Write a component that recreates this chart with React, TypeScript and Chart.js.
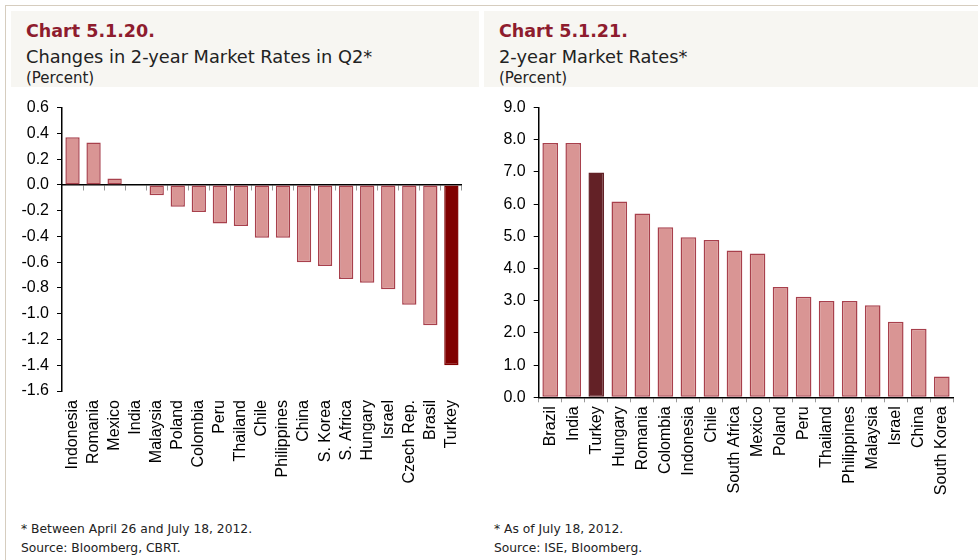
import React, { useEffect, useRef } from "react";
import { Chart, registerables } from "chart.js";

Chart.register(...registerables);

// ---------- Data ----------
const leftCategories = [
  "Indonesia", "Romania", "Mexico", "India", "Malaysia", "Poland", "Colombia", "Peru",
  "Thailand", "Chile", "Philippines", "China", "S. Korea", "S. Africa", "Hungary",
  "Israel", "Czech Rep.", "Brasil", "Turkey",
];
const leftValues = [
  0.37, 0.33, 0.05, 0.0, -0.08, -0.17, -0.21, -0.30, -0.32, -0.41, -0.41, -0.60,
  -0.63, -0.73, -0.76, -0.81, -0.93, -1.09, -1.40,
];
const leftYMin = -1.6;
const leftYMax = 0.6;
const leftYStep = 0.2;

const rightCategories = [
  "Brazil", "India", "Turkey", "Hungary", "Romania", "Colombia", "Indonesia", "Chile",
  "South Africa", "Mexico", "Poland", "Peru", "Thailand", "Philippines", "Malaysia",
  "Israel", "China", "South Korea",
];
const rightValues = [
  7.90, 7.90, 6.98, 6.08, 5.71, 5.28, 4.97, 4.89, 4.56, 4.47, 3.43, 3.12, 2.99, 2.99,
  2.86, 2.35, 2.13, 0.65,
];
const rightYMin = 0;
const rightYMax = 9;
const rightYStep = 1;

// ---------- Styles ----------
const BAR_FILL = "#d99594";
const BAR_BORDER = "#a8404c";
const TICK_FONT = { family: "'Liberation Sans', Arial, sans-serif", size: 16 };
const CAT_FONT = { family: "'Liberation Sans', Arial, sans-serif", size: 16 };
const HEAD_FONT = "'DejaVu Sans', Verdana, sans-serif";

const fmt = (v: number) => (Math.abs(v) < 1e-9 ? "0.0" : Number(v).toFixed(1));

function LeftChart() {
  const ref = useRef<HTMLCanvasElement | null>(null);
  useEffect(() => {
    if (!ref.current) return;
    const chart = new Chart(ref.current, {
      type: "bar",
      data: {
        labels: leftCategories,
        datasets: [
          {
            data: leftValues,
            backgroundColor: leftCategories.map((c) => (c === "Turkey" ? "#800000" : BAR_FILL)),
            borderColor: leftCategories.map((c) => (c === "Turkey" ? "#800000" : BAR_BORDER)),
            borderWidth: 1.5,
            borderSkipped: false,
            barPercentage: 0.68,
            categoryPercentage: 1,
          },
        ],
      },
      options: {
        responsive: false,
        animation: false,
        layout: { padding: { top: 0, right: 16, bottom: 0, left: 0 } },
        plugins: { legend: { display: false }, tooltip: { enabled: false } },
        scales: {
          x: {
            type: "category",
            offset: true,
            grid: { display: false, drawTicks: false },
            border: { display: false },
            ticks: {
              font: CAT_FONT,
              color: "#000",
              minRotation: 90,
              maxRotation: 90,
              autoSkip: false,
              padding: 9,
            },
            afterFit: (s: any) => {
              s.height = 104;
            },
          },
          x2: {
            type: "category",
            axis: "x",
            position: { y: 0 },
            offset: true,
            ticks: { display: false },
            grid: { offset: true, drawOnChartArea: false, tickLength: 5, color: "#999", lineWidth: 1 },
            border: { display: true, color: "#000", width: 1.5 },
          },
          y: {
            min: leftYMin,
            max: leftYMax,
            ticks: {
              stepSize: leftYStep,
              font: TICK_FONT,
              color: "#000",
              padding: 8,
              callback: (v: any) => fmt(Number(v)),
            },
            grid: { drawOnChartArea: false, tickLength: 5, tickColor: "#000" },
            border: { color: "#000", width: 1.5 },
            afterFit: (s: any) => {
              s.width = 52;
            },
          },
        },
      } as any,
    });
    return () => chart.destroy();
  }, []);
  return (
    <canvas
      ref={ref}
      width={470}
      height={405}
      style={{ position: "absolute", left: 10, top: 90, width: 470, height: 405 }}
    />
  );
}

function RightChart() {
  const ref = useRef<HTMLCanvasElement | null>(null);
  useEffect(() => {
    if (!ref.current) return;
    const chart = new Chart(ref.current, {
      type: "bar",
      data: {
        labels: rightCategories,
        datasets: [
          {
            data: rightValues,
            backgroundColor: rightCategories.map((c) => (c === "Turkey" ? "#632126" : BAR_FILL)),
            borderColor: rightCategories.map((c) => (c === "Turkey" ? "#632126" : BAR_BORDER)),
            borderWidth: 1.5,
            borderSkipped: false,
            barPercentage: 0.68,
            categoryPercentage: 1,
          },
        ],
      },
      options: {
        responsive: false,
        animation: false,
        layout: { padding: { top: 0, right: 24.7, bottom: 0, left: 0 } },
        plugins: { legend: { display: false }, tooltip: { enabled: false } },
        scales: {
          x: {
            type: "category",
            offset: true,
            grid: { offset: true, drawOnChartArea: false, tickLength: 5, color: "#999" },
            border: { color: "#000", width: 1.5 },
            ticks: {
              font: CAT_FONT,
              color: "#000",
              minRotation: 90,
              maxRotation: 90,
              autoSkip: false,
              padding: 4,
            },
            afterFit: (s: any) => {
              s.height = 102.7;
            },
          },
          y: {
            min: rightYMin,
            max: rightYMax,
            ticks: {
              stepSize: rightYStep,
              font: TICK_FONT,
              color: "#000",
              padding: 8,
              callback: (v: any) => fmt(Number(v)),
            },
            grid: { drawOnChartArea: false, tickLength: 5, tickColor: "#000" },
            border: { color: "#000", width: 1.5 },
            afterFit: (s: any) => {
              s.width = 50.7;
            },
          },
        },
      } as any,
    });
    return () => chart.destroy();
  }, []);
  return (
    <canvas
      ref={ref}
      width={490}
      height={410}
      style={{ position: "absolute", left: 488, top: 90, width: 490, height: 410 }}
    />
  );
}

const abs = (s: React.CSSProperties): React.CSSProperties => ({ position: "absolute", ...s });

export default function App() {
  return (
    <div
      style={{
        position: "fixed",
        left: 0,
        top: 0,
        width: 978,
        height: 560,
        background: "#fff",
        overflow: "hidden",
        fontFamily: HEAD_FONT,
      }}
    >
      {/* frame lines */}
      <div style={abs({ left: 5, top: 5, width: 973, height: 1, background: "#d6cdbf" })} />
      <div style={abs({ left: 5, top: 5, width: 1, height: 555, background: "#d6cdbf" })} />

      {/* headers */}
      <div style={abs({ left: 11, top: 11, width: 468, height: 76, background: "#f7f6f2" })} />
      <div style={abs({ left: 484, top: 11, width: 494, height: 76, background: "#f7f6f2" })} />

      <div style={abs({ left: 26, top: 21, fontSize: 17.5, fontWeight: "bold", color: "#8e1c2e", whiteSpace: "nowrap" })}>
        Chart 5.1.20.
      </div>
      <div style={abs({ left: 26, top: 46, fontSize: 17.8, color: "#222", whiteSpace: "nowrap" })}>
        Changes in 2-year Market Rates in Q2*
      </div>
      <div style={abs({ left: 26, top: 69, fontSize: 15, color: "#222", whiteSpace: "nowrap" })}>
        (Percent)
      </div>

      <div style={abs({ left: 499, top: 21, fontSize: 17.5, fontWeight: "bold", color: "#8e1c2e", whiteSpace: "nowrap" })}>
        Chart 5.1.21.
      </div>
      <div style={abs({ left: 499, top: 46, fontSize: 17.8, color: "#222", whiteSpace: "nowrap" })}>
        2-year Market Rates*
      </div>
      <div style={abs({ left: 499, top: 69, fontSize: 15, color: "#222", whiteSpace: "nowrap" })}>
        (Percent)
      </div>

      <LeftChart />
      <RightChart />

      {/* footnotes */}
      <div style={abs({ left: 21, top: 522, fontSize: 12.3, color: "#222", whiteSpace: "nowrap" })}>
        * Between April 26 and July 18, 2012.
      </div>
      <div style={abs({ left: 21, top: 541, fontSize: 12.3, color: "#222", whiteSpace: "nowrap" })}>
        Source: Bloomberg, CBRT.
      </div>
      <div style={abs({ left: 494, top: 522, fontSize: 12.3, color: "#222", whiteSpace: "nowrap" })}>
        * As of July 18, 2012.
      </div>
      <div style={abs({ left: 494, top: 541, fontSize: 12.3, color: "#222", whiteSpace: "nowrap" })}>
        Source: ISE, Bloomberg.
      </div>
    </div>
  );
}
